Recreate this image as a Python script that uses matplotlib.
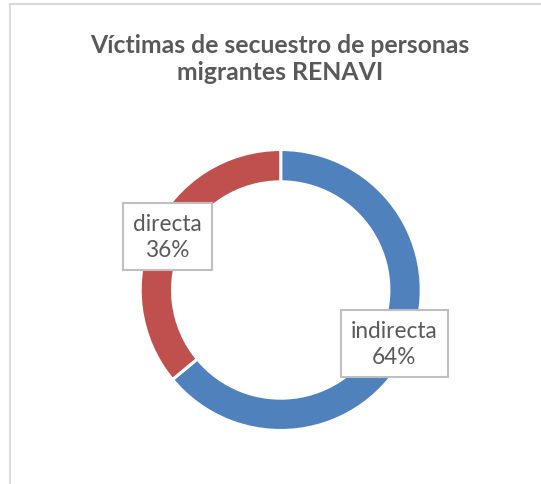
import numpy as np
import matplotlib.pyplot as plt
from matplotlib.patches import Rectangle

# data
labels = ['indirecta', 'directa']
shares = [64, 36]
colors = ['#4F81BD', '#C0504D']
title = 'Víctimas de secuestro de personas\nmigrantes RENAVI'

W, H = 541, 485
fig = plt.figure(figsize=(W / 100, H / 100), dpi=100)
ax = fig.add_axes([0, 0, 1, 1])

# chart area border (cut off on the right and bottom)
fig.patches.append(Rectangle((10 / W, -0.1), 1.2, (H - 5) / H + 0.1,
                             transform=fig.transFigure, fill=False,
                             edgecolor='#D9D9D9', linewidth=1.5))

cx, cy, r = 280.7, H - 291, 140.5
ring = 0.23
wedges, _ = ax.pie(shares, colors=colors, startangle=90, counterclock=False,
                   center=(cx, cy), radius=r, frame=True,
                   wedgeprops=dict(width=r * ring, edgecolor='white', linewidth=2.2))
ax.set_xlim(0, W)
ax.set_ylim(0, H)
ax.axis('off')

# data labels at the middle of each ring segment
rm = r * (1 - ring / 2) + 1
for w, lab, val in zip(wedges, labels, shares):
    ang = np.deg2rad((w.theta1 + w.theta2) / 2)
    ax.text(cx + rm * np.cos(ang), cy + rm * np.sin(ang), f'{lab}\n{val}%',
            ha='center', va='center', fontsize=16.3, family='Lato',
            color='#595959', linespacing=1.3,
            bbox=dict(boxstyle='square,pad=0.45', facecolor='white',
                      edgecolor='#BFBFBF', linewidth=1.5))

fig.text(280 / W, 1 - 59 / H, title, ha='center', va='center',
         fontsize=17.8, fontweight='bold', family='Lato', color='#595959',
         linespacing=1.25)

fig.savefig('out.png', dpi=100)
